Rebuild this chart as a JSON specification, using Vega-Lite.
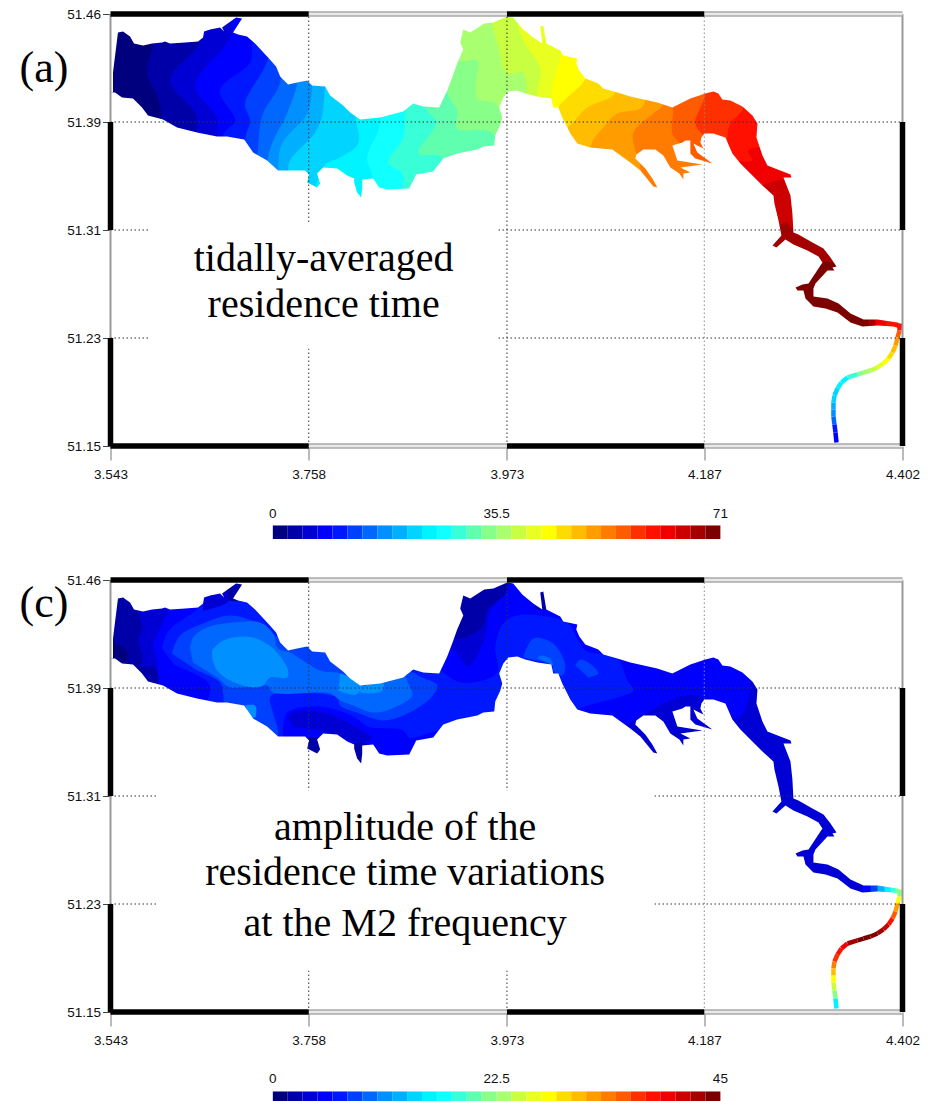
{"$schema":"https://vega.github.io/schema/vega-lite/v6.json","padding":{"left":19.5,"top":7,"right":0,"bottom":0},"spacing":0,"bounds":"flush","resolve":{"scale":{"fill":"independent","stroke":"independent"}},"config":{"view":{"stroke":null},"font":"Liberation Sans"},
"datasets":{
"a":[
{"p":0,"v":1.2,"lon":3.543,"lat":51.464},{"p":0,"v":1.2,"lon":4.402,"lat":51.464},{"p":0,"v":1.2,"lon":4.402,"lat":51.15},{"p":0,"v":1.2,"lon":3.543,"lat":51.15},
{"p":1,"v":3.6,"lon":3.5891,"lat":51.464},{"p":1,"v":3.6,"lon":3.5891,"lat":51.4426},{"p":1,"v":3.6,"lon":3.5826,"lat":51.4207},{"p":1,"v":3.6,"lon":3.5945,"lat":51.4033},{"p":1,"v":3.6,"lon":3.5989,"lat":51.3873},{"p":1,"v":3.6,"lon":3.5989,"lat":51.15},{"p":1,"v":3.6,"lon":4.402,"lat":51.15},{"p":1,"v":3.6,"lon":4.402,"lat":51.464},
{"p":2,"v":5.9,"lon":3.6401,"lat":51.464},{"p":2,"v":5.9,"lon":3.6401,"lat":51.4433},{"p":2,"v":5.9,"lon":3.6076,"lat":51.4157},{"p":2,"v":5.9,"lon":3.6347,"lat":51.3917},{"p":2,"v":5.9,"lon":3.6369,"lat":51.3779},{"p":2,"v":5.9,"lon":3.6369,"lat":51.15},{"p":2,"v":5.9,"lon":4.402,"lat":51.15},{"p":2,"v":5.9,"lon":4.402,"lat":51.464},
{"p":3,"v":8.3,"lon":3.6727,"lat":51.464},{"p":3,"v":8.3,"lon":3.6727,"lat":51.4469},{"p":3,"v":8.3,"lon":3.6347,"lat":51.412},{"p":3,"v":8.3,"lon":3.6586,"lat":51.3888},{"p":3,"v":8.3,"lon":3.6586,"lat":51.3757},{"p":3,"v":8.3,"lon":3.6586,"lat":51.15},{"p":3,"v":8.3,"lon":4.402,"lat":51.15},{"p":3,"v":8.3,"lon":4.402,"lat":51.464},
{"p":4,"v":10.7,"lon":3.6966,"lat":51.464},{"p":4,"v":10.7,"lon":3.6966,"lat":51.4426},{"p":4,"v":10.7,"lon":3.6944,"lat":51.4287},{"p":4,"v":10.7,"lon":3.6618,"lat":51.4084},{"p":4,"v":10.7,"lon":3.6781,"lat":51.3866},{"p":4,"v":10.7,"lon":3.6651,"lat":51.3757},{"p":4,"v":10.7,"lon":3.6651,"lat":51.15},{"p":4,"v":10.7,"lon":4.402,"lat":51.15},{"p":4,"v":10.7,"lon":4.402,"lat":51.464},
{"p":5,"v":13,"lon":3.7139,"lat":51.464},{"p":5,"v":13,"lon":3.7139,"lat":51.4317},{"p":5,"v":13,"lon":3.689,"lat":51.3989},{"p":5,"v":13,"lon":3.6944,"lat":51.3866},{"p":5,"v":13,"lon":3.689,"lat":51.3728},{"p":5,"v":13,"lon":3.689,"lat":51.15},{"p":5,"v":13,"lon":4.402,"lat":51.15},{"p":5,"v":13,"lon":4.402,"lat":51.464},
{"p":6,"v":15.4,"lon":3.727,"lat":51.464},{"p":6,"v":15.4,"lon":3.727,"lat":51.4142},{"p":6,"v":15.4,"lon":3.7085,"lat":51.3917},{"p":6,"v":15.4,"lon":3.7031,"lat":51.367},{"p":6,"v":15.4,"lon":3.7031,"lat":51.15},{"p":6,"v":15.4,"lon":4.402,"lat":51.15},{"p":6,"v":15.4,"lon":4.402,"lat":51.464},
{"p":7,"v":17.8,"lon":3.7454,"lat":51.464},{"p":7,"v":17.8,"lon":3.7454,"lat":51.4142},{"p":7,"v":17.8,"lon":3.7345,"lat":51.3917},{"p":7,"v":17.8,"lon":3.7139,"lat":51.3597},{"p":7,"v":17.8,"lon":3.7139,"lat":51.15},{"p":7,"v":17.8,"lon":4.402,"lat":51.15},{"p":7,"v":17.8,"lon":4.402,"lat":51.464},
{"p":8,"v":20.1,"lon":3.7617,"lat":51.464},{"p":8,"v":20.1,"lon":3.7617,"lat":51.412},{"p":8,"v":20.1,"lon":3.7563,"lat":51.3917},{"p":8,"v":20.1,"lon":3.7291,"lat":51.3699},{"p":8,"v":20.1,"lon":3.7248,"lat":51.3502},{"p":8,"v":20.1,"lon":3.7248,"lat":51.15},{"p":8,"v":20.1,"lon":4.402,"lat":51.15},{"p":8,"v":20.1,"lon":4.402,"lat":51.464},
{"p":9,"v":22.5,"lon":3.7758,"lat":51.464},{"p":9,"v":22.5,"lon":3.7758,"lat":51.4113},{"p":9,"v":22.5,"lon":3.7682,"lat":51.3815},{"p":9,"v":22.5,"lon":3.7378,"lat":51.3575},{"p":9,"v":22.5,"lon":3.7356,"lat":51.3488},{"p":9,"v":22.5,"lon":3.7356,"lat":51.15},{"p":9,"v":22.5,"lon":4.402,"lat":51.15},{"p":9,"v":22.5,"lon":4.402,"lat":51.464},
{"p":10,"v":24.9,"lon":3.8083,"lat":51.464},{"p":10,"v":24.9,"lon":3.8083,"lat":51.3924},{"p":10,"v":24.9,"lon":3.8116,"lat":51.3699},{"p":10,"v":24.9,"lon":3.7921,"lat":51.3597},{"p":10,"v":24.9,"lon":3.7736,"lat":51.3524},{"p":10,"v":24.9,"lon":3.7736,"lat":51.15},{"p":10,"v":24.9,"lon":4.402,"lat":51.15},{"p":10,"v":24.9,"lon":4.402,"lat":51.464},
{"p":11,"v":27.2,"lon":3.8355,"lat":51.464},{"p":11,"v":27.2,"lon":3.8355,"lat":51.3844},{"p":11,"v":27.2,"lon":3.8214,"lat":51.3597},{"p":11,"v":27.2,"lon":3.8279,"lat":51.343},{"p":11,"v":27.2,"lon":3.8279,"lat":51.15},{"p":11,"v":27.2,"lon":4.402,"lat":51.15},{"p":11,"v":27.2,"lon":4.402,"lat":51.464},
{"p":12,"v":29.6,"lon":3.8626,"lat":51.464},{"p":12,"v":29.6,"lon":3.8626,"lat":51.3924},{"p":12,"v":29.6,"lon":3.8605,"lat":51.3742},{"p":12,"v":29.6,"lon":3.8442,"lat":51.3561},{"p":12,"v":29.6,"lon":3.8594,"lat":51.3481},{"p":12,"v":29.6,"lon":3.8605,"lat":51.3372},{"p":12,"v":29.6,"lon":3.8605,"lat":51.15},{"p":12,"v":29.6,"lon":4.402,"lat":51.15},{"p":12,"v":29.6,"lon":4.402,"lat":51.464},
{"p":13,"v":32,"lon":3.8843,"lat":51.464},{"p":13,"v":32,"lon":3.8843,"lat":51.396},{"p":13,"v":32,"lon":3.8963,"lat":51.3851},{"p":13,"v":32,"lon":3.8767,"lat":51.3626},{"p":13,"v":32,"lon":3.9039,"lat":51.359},{"p":13,"v":32,"lon":3.9039,"lat":51.15},{"p":13,"v":32,"lon":4.402,"lat":51.15},{"p":13,"v":32,"lon":4.402,"lat":51.464},
{"p":14,"v":34.3,"lon":3.9082,"lat":51.464},{"p":14,"v":34.3,"lon":3.9082,"lat":51.4069},{"p":14,"v":34.3,"lon":3.919,"lat":51.3939},{"p":14,"v":34.3,"lon":3.919,"lat":51.3808},{"p":14,"v":34.3,"lon":3.9603,"lat":51.3757},{"p":14,"v":34.3,"lon":3.9603,"lat":51.15},{"p":14,"v":34.3,"lon":4.402,"lat":51.15},{"p":14,"v":34.3,"lon":4.402,"lat":51.464},
{"p":15,"v":36.7,"lon":3.9223,"lat":51.464},{"p":15,"v":36.7,"lon":3.9223,"lat":51.4302},{"p":15,"v":36.7,"lon":3.9408,"lat":51.4302},{"p":15,"v":36.7,"lon":3.9397,"lat":51.4157},{"p":15,"v":36.7,"lon":3.9408,"lat":51.4026},{"p":15,"v":36.7,"lon":3.9636,"lat":51.3968},{"p":15,"v":36.7,"lon":3.9636,"lat":51.15},{"p":15,"v":36.7,"lon":4.402,"lat":51.15},{"p":15,"v":36.7,"lon":4.402,"lat":51.464},
{"p":16,"v":39.1,"lon":3.9571,"lat":51.464},{"p":16,"v":39.1,"lon":3.9571,"lat":51.4571},{"p":16,"v":39.1,"lon":3.9625,"lat":51.4426},{"p":16,"v":39.1,"lon":3.9733,"lat":51.4207},{"p":16,"v":39.1,"lon":3.9896,"lat":51.4215},{"p":16,"v":39.1,"lon":3.994,"lat":51.4135},{"p":16,"v":39.1,"lon":3.994,"lat":51.15},{"p":16,"v":39.1,"lon":4.402,"lat":51.15},{"p":16,"v":39.1,"lon":4.402,"lat":51.464},
{"p":17,"v":41.4,"lon":3.9853,"lat":51.464},{"p":17,"v":41.4,"lon":3.9853,"lat":51.4542},{"p":17,"v":41.4,"lon":3.995,"lat":51.4396},{"p":17,"v":41.4,"lon":4.0091,"lat":51.4251},{"p":17,"v":41.4,"lon":4.0059,"lat":51.4048},{"p":17,"v":41.4,"lon":4.0059,"lat":51.15},{"p":17,"v":41.4,"lon":4.402,"lat":51.15},{"p":17,"v":41.4,"lon":4.402,"lat":51.464},
{"p":18,"v":43.8,"lon":4.0308,"lat":51.464},{"p":18,"v":43.8,"lon":4.0308,"lat":51.4324},{"p":18,"v":43.8,"lon":4.0232,"lat":51.4157},{"p":18,"v":43.8,"lon":4.0211,"lat":51.4026},{"p":18,"v":43.8,"lon":4.0211,"lat":51.15},{"p":18,"v":43.8,"lon":4.402,"lat":51.15},{"p":18,"v":43.8,"lon":4.402,"lat":51.464},
{"p":19,"v":46.2,"lon":4.058,"lat":51.464},{"p":19,"v":46.2,"lon":4.058,"lat":51.4171},{"p":19,"v":46.2,"lon":4.0384,"lat":51.4033},{"p":19,"v":46.2,"lon":4.0287,"lat":51.3953},{"p":19,"v":46.2,"lon":4.0287,"lat":51.15},{"p":19,"v":46.2,"lon":4.402,"lat":51.15},{"p":19,"v":46.2,"lon":4.402,"lat":51.464},
{"p":20,"v":48.5,"lon":4.0905,"lat":51.464},{"p":20,"v":48.5,"lon":4.0905,"lat":51.4069},{"p":20,"v":48.5,"lon":4.0851,"lat":51.4033},{"p":20,"v":48.5,"lon":4.0602,"lat":51.396},{"p":20,"v":48.5,"lon":4.0439,"lat":51.3844},{"p":20,"v":48.5,"lon":4.0384,"lat":51.3808},{"p":20,"v":48.5,"lon":4.0384,"lat":51.15},{"p":20,"v":48.5,"lon":4.402,"lat":51.15},{"p":20,"v":48.5,"lon":4.402,"lat":51.464},
{"p":21,"v":50.9,"lon":4.1242,"lat":51.464},{"p":21,"v":50.9,"lon":4.1242,"lat":51.4048},{"p":21,"v":50.9,"lon":4.1177,"lat":51.3953},{"p":21,"v":50.9,"lon":4.0927,"lat":51.3917},{"p":21,"v":50.9,"lon":4.0775,"lat":51.3815},{"p":21,"v":50.9,"lon":4.0634,"lat":51.367},{"p":21,"v":50.9,"lon":4.0634,"lat":51.15},{"p":21,"v":50.9,"lon":4.402,"lat":51.15},{"p":21,"v":50.9,"lon":4.402,"lat":51.464},
{"p":22,"v":53.3,"lon":4.1415,"lat":51.464},{"p":22,"v":53.3,"lon":4.1415,"lat":51.3975},{"p":22,"v":53.3,"lon":4.1318,"lat":51.3917},{"p":22,"v":53.3,"lon":4.1101,"lat":51.3779},{"p":22,"v":53.3,"lon":4.1122,"lat":51.3648},{"p":22,"v":53.3,"lon":4.1177,"lat":51.3539},{"p":22,"v":53.3,"lon":4.1177,"lat":51.15},{"p":22,"v":53.3,"lon":4.402,"lat":51.15},{"p":22,"v":53.3,"lon":4.402,"lat":51.464},
{"p":23,"v":55.6,"lon":4.1535,"lat":51.464},{"p":23,"v":55.6,"lon":4.1535,"lat":51.396},{"p":23,"v":55.6,"lon":4.1524,"lat":51.3771},{"p":23,"v":55.6,"lon":4.16,"lat":51.3699},{"p":23,"v":55.6,"lon":4.1665,"lat":51.3612},{"p":23,"v":55.6,"lon":4.1991,"lat":51.3517},{"p":23,"v":55.6,"lon":4.2045,"lat":51.15},{"p":23,"v":55.6,"lon":4.402,"lat":51.15},{"p":23,"v":55.6,"lon":4.402,"lat":51.464},
{"p":24,"v":58,"lon":4.1882,"lat":51.464},{"p":24,"v":58,"lon":4.1882,"lat":51.4062},{"p":24,"v":58,"lon":4.1773,"lat":51.3844},{"p":24,"v":58,"lon":4.186,"lat":51.3757},{"p":24,"v":58,"lon":4.2153,"lat":51.3502},{"p":24,"v":58,"lon":4.2153,"lat":51.15},{"p":24,"v":58,"lon":4.402,"lat":51.15},{"p":24,"v":58,"lon":4.402,"lat":51.464},
{"p":25,"v":60.4,"lon":4.2295,"lat":51.464},{"p":25,"v":60.4,"lon":4.2295,"lat":51.396},{"p":25,"v":60.4,"lon":4.2153,"lat":51.3844},{"p":25,"v":60.4,"lon":4.212,"lat":51.3742},{"p":25,"v":60.4,"lon":4.2175,"lat":51.3502},{"p":25,"v":60.4,"lon":4.2175,"lat":51.15},{"p":25,"v":60.4,"lon":4.402,"lat":51.15},{"p":25,"v":60.4,"lon":4.402,"lat":51.464},
{"p":26,"v":62.7,"lon":4.402,"lat":51.3648},{"p":26,"v":62.7,"lon":4.2349,"lat":51.3648},{"p":26,"v":62.7,"lon":4.2392,"lat":51.3575},{"p":26,"v":62.7,"lon":4.2099,"lat":51.3539},{"p":26,"v":62.7,"lon":4.2099,"lat":51.15},{"p":26,"v":62.7,"lon":4.402,"lat":51.15},
{"p":27,"v":65.1,"lon":4.402,"lat":51.3452},{"p":27,"v":65.1,"lon":4.2805,"lat":51.3452},{"p":27,"v":65.1,"lon":4.2501,"lat":51.3393},{"p":27,"v":65.1,"lon":4.2316,"lat":51.3321},{"p":27,"v":65.1,"lon":4.2316,"lat":51.15},{"p":27,"v":65.1,"lon":4.402,"lat":51.15},
{"p":28,"v":67.5,"lon":4.402,"lat":51.3103},{"p":28,"v":67.5,"lon":4.2837,"lat":51.3081},{"p":28,"v":67.5,"lon":4.2751,"lat":51.3124},{"p":28,"v":67.5,"lon":4.2588,"lat":51.303},{"p":28,"v":67.5,"lon":4.2479,"lat":51.15},{"p":28,"v":67.5,"lon":4.402,"lat":51.15},
{"p":29,"v":69.8,"lon":4.402,"lat":51.2834},{"p":29,"v":69.8,"lon":4.3304,"lat":51.2827},{"p":29,"v":69.8,"lon":4.3184,"lat":51.2841},{"p":29,"v":69.8,"lon":4.3109,"lat":51.2819},{"p":29,"v":69.8,"lon":4.2805,"lat":51.2776},{"p":29,"v":69.8,"lon":4.2805,"lat":51.15},{"p":29,"v":69.8,"lon":4.402,"lat":51.15},
{"p":30,"v":67.5,"lon":4.3651,"lat":51.2557},{"p":30,"v":67.5,"lon":4.402,"lat":51.2557},{"p":30,"v":67.5,"lon":4.402,"lat":51.223},{"p":30,"v":67.5,"lon":4.3651,"lat":51.223},
{"p":31,"v":62.7,"lon":4.3727,"lat":51.2557},{"p":31,"v":62.7,"lon":4.402,"lat":51.2557},{"p":31,"v":62.7,"lon":4.402,"lat":51.223},{"p":31,"v":62.7,"lon":4.3727,"lat":51.223},
{"p":32,"v":60.4,"lon":4.3836,"lat":51.2557},{"p":32,"v":60.4,"lon":4.402,"lat":51.2557},{"p":32,"v":60.4,"lon":4.402,"lat":51.223},{"p":32,"v":60.4,"lon":4.3836,"lat":51.223}
],
"c":[
{"p":0,"v":3.75,"lon":3.543,"lat":51.464},{"p":0,"v":3.75,"lon":4.402,"lat":51.464},{"p":0,"v":3.75,"lon":4.402,"lat":51.15},{"p":0,"v":3.75,"lon":3.543,"lat":51.15},
{"p":1,"v":5.25,"lon":3.6076,"lat":51.444},{"p":1,"v":5.25,"lon":3.6076,"lat":51.464},{"p":1,"v":5.25,"lon":4.1828,"lat":51.464},{"p":1,"v":5.25,"lon":4.2316,"lat":51.4011},{"p":1,"v":5.25,"lon":4.237,"lat":51.3866},{"p":1,"v":5.25,"lon":4.2262,"lat":51.3648},{"p":1,"v":5.25,"lon":4.2132,"lat":51.3648},{"p":1,"v":5.25,"lon":4.1828,"lat":51.3793},{"p":1,"v":5.25,"lon":4.1611,"lat":51.3793},{"p":1,"v":5.25,"lon":4.1177,"lat":51.3648},{"p":1,"v":5.25,"lon":4.0743,"lat":51.3466},{"p":1,"v":5.25,"lon":3.9874,"lat":51.3284},{"p":1,"v":5.25,"lon":3.6401,"lat":51.3284},{"p":1,"v":5.25,"lon":3.6184,"lat":51.3757},{"p":1,"v":5.25,"lon":3.5967,"lat":51.3888},{"p":1,"v":5.25,"lon":3.5935,"lat":51.4055},{"p":1,"v":5.25,"lon":3.5891,"lat":51.4178},
{"p":2,"v":6.75,"lon":3.5989,"lat":51.4142},{"p":2,"v":6.75,"lon":3.6054,"lat":51.4266},{"p":2,"v":6.75,"lon":3.6369,"lat":51.4426},{"p":2,"v":6.75,"lon":3.6673,"lat":51.4593},{"p":2,"v":6.75,"lon":3.7487,"lat":51.4302},{"p":2,"v":6.75,"lon":3.8572,"lat":51.4084},{"p":2,"v":6.75,"lon":3.9006,"lat":51.3982},{"p":2,"v":6.75,"lon":3.9169,"lat":51.3909},{"p":2,"v":6.75,"lon":3.9364,"lat":51.3895},{"p":2,"v":6.75,"lon":3.9625,"lat":51.3968},{"p":2,"v":6.75,"lon":3.9603,"lat":51.415},{"p":2,"v":6.75,"lon":3.969,"lat":51.4324},{"p":2,"v":6.75,"lon":3.9842,"lat":51.4382},{"p":2,"v":6.75,"lon":4.0091,"lat":51.4382},{"p":2,"v":6.75,"lon":4.0384,"lat":51.4331},{"p":2,"v":6.75,"lon":4.0504,"lat":51.42},{"p":2,"v":6.75,"lon":4.058,"lat":51.4128},{"p":2,"v":6.75,"lon":4.0927,"lat":51.4069},{"p":2,"v":6.75,"lon":4.1035,"lat":51.3909},{"p":2,"v":6.75,"lon":4.1101,"lat":51.3837},{"p":2,"v":6.75,"lon":4.0927,"lat":51.3786},{"p":2,"v":6.75,"lon":4.0547,"lat":51.3713},{"p":2,"v":6.75,"lon":4.0417,"lat":51.3648},{"p":2,"v":6.75,"lon":3.9657,"lat":51.3575},{"p":2,"v":6.75,"lon":3.9006,"lat":51.3546},{"p":2,"v":6.75,"lon":3.8659,"lat":51.3495},{"p":2,"v":6.75,"lon":3.8605,"lat":51.3546},{"p":2,"v":6.75,"lon":3.8246,"lat":51.3568},{"p":2,"v":6.75,"lon":3.7921,"lat":51.3619},{"p":2,"v":6.75,"lon":3.7704,"lat":51.3357},{"p":2,"v":6.75,"lon":3.7052,"lat":51.3357},{"p":2,"v":6.75,"lon":3.651,"lat":51.372},{"p":2,"v":6.75,"lon":3.6488,"lat":51.375},{"p":2,"v":6.75,"lon":3.651,"lat":51.3873},{"p":2,"v":6.75,"lon":3.638,"lat":51.3946},{"p":2,"v":6.75,"lon":3.613,"lat":51.4019},
{"p":3,"v":8.25,"lon":3.6097,"lat":51.4106},{"p":3,"v":8.25,"lon":3.6184,"lat":51.4236},{"p":3,"v":8.25,"lon":3.6434,"lat":51.4324},{"p":3,"v":8.25,"lon":3.6727,"lat":51.4382},{"p":3,"v":8.25,"lon":3.702,"lat":51.4331},{"p":3,"v":8.25,"lon":3.7161,"lat":51.4273},{"p":3,"v":8.25,"lon":3.7237,"lat":51.4229},{"p":3,"v":8.25,"lon":3.7921,"lat":51.4084},{"p":3,"v":8.25,"lon":3.8572,"lat":51.4011},{"p":3,"v":8.25,"lon":3.8811,"lat":51.3931},{"p":3,"v":8.25,"lon":3.8974,"lat":51.3873},{"p":3,"v":8.25,"lon":3.8898,"lat":51.3779},{"p":3,"v":8.25,"lon":3.8605,"lat":51.3655},{"p":3,"v":8.25,"lon":3.8388,"lat":51.3619},{"p":3,"v":8.25,"lon":3.8105,"lat":51.3677},{"p":3,"v":8.25,"lon":3.7921,"lat":51.3728},{"p":3,"v":8.25,"lon":3.7888,"lat":51.3786},{"p":3,"v":8.25,"lon":3.727,"lat":51.3822},{"p":3,"v":8.25,"lon":3.7161,"lat":51.3786},{"p":3,"v":8.25,"lon":3.7194,"lat":51.367},{"p":3,"v":8.25,"lon":3.7248,"lat":51.3524},{"p":3,"v":8.25,"lon":3.7161,"lat":51.3393},{"p":3,"v":8.25,"lon":3.6836,"lat":51.3648},{"p":3,"v":8.25,"lon":3.6673,"lat":51.372},{"p":3,"v":8.25,"lon":3.6651,"lat":51.3815},{"p":3,"v":8.25,"lon":3.6618,"lat":51.3895},{"p":3,"v":8.25,"lon":3.6369,"lat":51.3982},
{"p":4,"v":9.75,"lon":3.6293,"lat":51.4142},{"p":4,"v":9.75,"lon":3.6325,"lat":51.4222},{"p":4,"v":9.75,"lon":3.6477,"lat":51.4295},{"p":4,"v":9.75,"lon":3.6759,"lat":51.4331},{"p":4,"v":9.75,"lon":3.7052,"lat":51.4331},{"p":4,"v":9.75,"lon":3.7194,"lat":51.425},{"p":4,"v":9.75,"lon":3.7248,"lat":51.4142},{"p":4,"v":9.75,"lon":3.7378,"lat":51.4113},{"p":4,"v":9.75,"lon":3.7704,"lat":51.3982},{"p":4,"v":9.75,"lon":3.7921,"lat":51.396},{"p":4,"v":9.75,"lon":3.8062,"lat":51.3888},{"p":4,"v":9.75,"lon":3.8138,"lat":51.3924},{"p":4,"v":9.75,"lon":3.8605,"lat":51.3953},{"p":4,"v":9.75,"lon":3.8659,"lat":51.3888},{"p":4,"v":9.75,"lon":3.8702,"lat":51.38},{"p":4,"v":9.75,"lon":3.8485,"lat":51.3706},{"p":4,"v":9.75,"lon":3.8279,"lat":51.3677},{"p":4,"v":9.75,"lon":3.8062,"lat":51.3728},{"p":4,"v":9.75,"lon":3.7921,"lat":51.3764},{"p":4,"v":9.75,"lon":3.7812,"lat":51.3815},{"p":4,"v":9.75,"lon":3.7194,"lat":51.3822},{"p":4,"v":9.75,"lon":3.7128,"lat":51.3873},{"p":4,"v":9.75,"lon":3.6727,"lat":51.3859},{"p":4,"v":9.75,"lon":3.6586,"lat":51.3931},{"p":4,"v":9.75,"lon":3.6325,"lat":51.404},
{"p":5,"v":11.25,"lon":3.6532,"lat":51.4128},{"p":5,"v":11.25,"lon":3.6618,"lat":51.4186},{"p":5,"v":11.25,"lon":3.6759,"lat":51.4222},{"p":5,"v":11.25,"lon":3.6977,"lat":51.4222},{"p":5,"v":11.25,"lon":3.7194,"lat":51.4142},{"p":5,"v":11.25,"lon":3.7356,"lat":51.3982},{"p":5,"v":11.25,"lon":3.7345,"lat":51.3931},{"p":5,"v":11.25,"lon":3.7161,"lat":51.3931},{"p":5,"v":11.25,"lon":3.7085,"lat":51.3873},{"p":5,"v":11.25,"lon":3.6977,"lat":51.3859},{"p":5,"v":11.25,"lon":3.6727,"lat":51.3909},{"p":5,"v":11.25,"lon":3.6586,"lat":51.3982},{"p":5,"v":11.25,"lon":3.6532,"lat":51.4069},
{"p":6,"v":11.25,"lon":3.7921,"lat":51.396},{"p":6,"v":11.25,"lon":3.816,"lat":51.3888},{"p":6,"v":11.25,"lon":3.8095,"lat":51.3808},{"p":6,"v":11.25,"lon":3.79,"lat":51.3837},
{"p":7,"v":11.25,"lon":3.8138,"lat":51.3859},{"p":7,"v":11.25,"lon":3.8388,"lat":51.3895},{"p":7,"v":11.25,"lon":3.8377,"lat":51.3837},{"p":7,"v":11.25,"lon":3.8246,"lat":51.3815},{"p":7,"v":11.25,"lon":3.8138,"lat":51.3822},
{"p":8,"v":11.25,"lon":3.689,"lat":51.3728},{"p":8,"v":11.25,"lon":3.6998,"lat":51.3728},{"p":8,"v":11.25,"lon":3.6998,"lat":51.364},{"p":8,"v":11.25,"lon":3.6944,"lat":51.3648},
{"p":9,"v":5.25,"lon":3.7302,"lat":51.351},{"p":9,"v":5.25,"lon":3.7345,"lat":51.3677},{"p":9,"v":5.25,"lon":3.7704,"lat":51.372},{"p":9,"v":5.25,"lon":3.8062,"lat":51.3648},{"p":9,"v":5.25,"lon":3.8246,"lat":51.3568},{"p":9,"v":5.25,"lon":3.8605,"lat":51.3539},{"p":9,"v":5.25,"lon":3.8659,"lat":51.3495},{"p":9,"v":5.25,"lon":3.8539,"lat":51.3357},{"p":9,"v":5.25,"lon":3.7921,"lat":51.3321},{"p":9,"v":5.25,"lon":3.7378,"lat":51.3357},
{"p":10,"v":3.75,"lon":3.7356,"lat":51.364},{"p":10,"v":3.75,"lon":3.7432,"lat":51.3684},{"p":10,"v":3.75,"lon":3.7736,"lat":51.3677},{"p":10,"v":3.75,"lon":3.8062,"lat":51.3582},{"p":10,"v":3.75,"lon":3.8268,"lat":51.3488},{"p":10,"v":3.75,"lon":3.8083,"lat":51.346},{"p":10,"v":3.75,"lon":3.7704,"lat":51.3546},{"p":10,"v":3.75,"lon":3.7411,"lat":51.3568},
{"p":11,"v":2.25,"lon":3.7519,"lat":51.3488},{"p":11,"v":2.25,"lon":3.7725,"lat":51.3488},{"p":11,"v":2.25,"lon":3.7725,"lat":51.3321},{"p":11,"v":2.25,"lon":3.7519,"lat":51.3321},
{"p":12,"v":2.25,"lon":3.8051,"lat":51.3452},{"p":12,"v":2.25,"lon":3.8203,"lat":51.3452},{"p":12,"v":2.25,"lon":3.8203,"lat":51.3284},{"p":12,"v":2.25,"lon":3.8051,"lat":51.3284},
{"p":13,"v":2.25,"lon":3.6564,"lat":51.4542},{"p":13,"v":2.25,"lon":3.664,"lat":51.4636},{"p":13,"v":2.25,"lon":3.6889,"lat":51.4636},{"p":13,"v":2.25,"lon":3.6814,"lat":51.4491},{"p":13,"v":2.25,"lon":3.6673,"lat":51.4498},
{"p":14,"v":2.25,"lon":4.0037,"lat":51.4593},{"p":14,"v":2.25,"lon":4.0222,"lat":51.4593},{"p":14,"v":2.25,"lon":4.0222,"lat":51.4433},{"p":14,"v":2.25,"lon":4.0037,"lat":51.4433},
{"p":15,"v":3.75,"lon":3.6423,"lat":51.4542},{"p":15,"v":3.75,"lon":3.6673,"lat":51.4564},{"p":15,"v":3.75,"lon":3.6705,"lat":51.4484},{"p":15,"v":3.75,"lon":3.6434,"lat":51.4418},
{"p":16,"v":3.75,"lon":3.9733,"lat":51.46},{"p":16,"v":3.75,"lon":3.9722,"lat":51.4542},{"p":16,"v":3.75,"lon":3.9549,"lat":51.4418},{"p":16,"v":3.75,"lon":3.9494,"lat":51.4222},{"p":16,"v":3.75,"lon":3.931,"lat":51.4011},{"p":16,"v":3.75,"lon":3.9169,"lat":51.4128},{"p":16,"v":3.75,"lon":3.9093,"lat":51.4128},{"p":16,"v":3.75,"lon":3.9147,"lat":51.4222},{"p":16,"v":3.75,"lon":3.9169,"lat":51.452},{"p":16,"v":3.75,"lon":3.9473,"lat":51.4629},
{"p":17,"v":2.25,"lon":3.9256,"lat":51.4556},{"p":17,"v":2.25,"lon":3.9473,"lat":51.4615},{"p":17,"v":2.25,"lon":3.9711,"lat":51.4636},{"p":17,"v":2.25,"lon":3.9733,"lat":51.4564},{"p":17,"v":2.25,"lon":3.9516,"lat":51.4418},{"p":17,"v":2.25,"lon":3.9473,"lat":51.4309},{"p":17,"v":2.25,"lon":3.9277,"lat":51.4222},{"p":17,"v":2.25,"lon":3.9169,"lat":51.4222},{"p":17,"v":2.25,"lon":3.9169,"lat":51.4396},
{"p":18,"v":8.25,"lon":3.9907,"lat":51.4077},{"p":18,"v":8.25,"lon":4.0015,"lat":51.4215},{"p":18,"v":8.25,"lon":4.0232,"lat":51.4178},{"p":18,"v":8.25,"lon":4.0363,"lat":51.4019},{"p":18,"v":8.25,"lon":4.033,"lat":51.3946},{"p":18,"v":8.25,"lon":4.0232,"lat":51.3982},{"p":18,"v":8.25,"lon":4.0222,"lat":51.4033},{"p":18,"v":8.25,"lon":4.0059,"lat":51.4055},
{"p":19,"v":9.75,"lon":4.0059,"lat":51.4069},{"p":19,"v":9.75,"lon":4.0091,"lat":51.4091},{"p":19,"v":9.75,"lon":4.02,"lat":51.4069},{"p":19,"v":9.75,"lon":4.0232,"lat":51.4019},
{"p":20,"v":8.25,"lon":4.0471,"lat":51.4019},{"p":20,"v":8.25,"lon":4.0525,"lat":51.4062},{"p":20,"v":8.25,"lon":4.0656,"lat":51.4019},{"p":20,"v":8.25,"lon":4.0721,"lat":51.396},{"p":20,"v":8.25,"lon":4.0613,"lat":51.3931},
{"p":21,"v":2.25,"lon":3.543,"lat":51.404},{"p":21,"v":2.25,"lon":3.5511,"lat":51.4535},{"p":21,"v":2.25,"lon":3.5674,"lat":51.4462},{"p":21,"v":2.25,"lon":3.5772,"lat":51.4295},{"p":21,"v":2.25,"lon":3.5729,"lat":51.42},{"p":21,"v":2.25,"lon":3.5783,"lat":51.4055},{"p":21,"v":2.25,"lon":3.5696,"lat":51.3982},{"p":21,"v":2.25,"lon":3.5609,"lat":51.4004},
{"p":22,"v":2.25,"lon":3.5674,"lat":51.4004},{"p":22,"v":2.25,"lon":3.5913,"lat":51.4004},{"p":22,"v":2.25,"lon":3.5945,"lat":51.3895},{"p":22,"v":2.25,"lon":3.5837,"lat":51.3873},{"p":22,"v":2.25,"lon":3.575,"lat":51.393},
{"p":23,"v":0.75,"lon":3.543,"lat":51.4193},{"p":23,"v":0.75,"lon":3.5587,"lat":51.4142},{"p":23,"v":0.75,"lon":3.562,"lat":51.4069},{"p":23,"v":0.75,"lon":3.5511,"lat":51.4026},{"p":23,"v":0.75,"lon":3.543,"lat":51.4026},
{"p":24,"v":5.25,"lon":4.3586,"lat":51.2557},{"p":24,"v":5.25,"lon":4.402,"lat":51.2557},{"p":24,"v":5.25,"lon":4.402,"lat":51.223},{"p":24,"v":5.25,"lon":4.3586,"lat":51.223},
{"p":25,"v":8.25,"lon":4.3673,"lat":51.2557},{"p":25,"v":8.25,"lon":4.402,"lat":51.2557},{"p":25,"v":8.25,"lon":4.402,"lat":51.223},{"p":25,"v":8.25,"lon":4.3673,"lat":51.223},
{"p":26,"v":12.75,"lon":4.3749,"lat":51.2557},{"p":26,"v":12.75,"lon":4.402,"lat":51.2557},{"p":26,"v":12.75,"lon":4.402,"lat":51.223},{"p":26,"v":12.75,"lon":4.3749,"lat":51.223},
{"p":27,"v":15.75,"lon":4.3825,"lat":51.2557},{"p":27,"v":15.75,"lon":4.402,"lat":51.2557},{"p":27,"v":15.75,"lon":4.402,"lat":51.223},{"p":27,"v":15.75,"lon":4.3825,"lat":51.223},
{"p":28,"v":18.75,"lon":4.389,"lat":51.2557},{"p":28,"v":18.75,"lon":4.402,"lat":51.2557},{"p":28,"v":18.75,"lon":4.402,"lat":51.223},{"p":28,"v":18.75,"lon":4.389,"lat":51.223},
{"p":29,"v":21.75,"lon":4.3944,"lat":51.2557},{"p":29,"v":21.75,"lon":4.402,"lat":51.2557},{"p":29,"v":21.75,"lon":4.402,"lat":51.223},{"p":29,"v":21.75,"lon":4.3944,"lat":51.223}
],
"mask":[
{"m":"u","lon":3.543,"lat":51.4069},{"m":"u","lon":3.5457,"lat":51.4069},{"m":"u","lon":3.5457,"lat":51.4215},{"m":"u","lon":3.5511,"lat":51.4506},{"m":"u","lon":3.5566,"lat":51.4513},{"m":"u","lon":3.5642,"lat":51.4476},{"m":"u","lon":3.5685,"lat":51.4426},{"m":"u","lon":3.5783,"lat":51.4411},{"m":"u","lon":3.5881,"lat":51.4426},{"m":"u","lon":3.5989,"lat":51.4433},{"m":"u","lon":3.6021,"lat":51.444},{"m":"u","lon":3.6076,"lat":51.4426},{"m":"u","lon":3.6239,"lat":51.4433},{"m":"u","lon":3.638,"lat":51.444},{"m":"u","lon":3.6434,"lat":51.4469},{"m":"u","lon":3.6445,"lat":51.4513},{"m":"u","lon":3.651,"lat":51.4527},{"m":"u","lon":3.6618,"lat":51.4542},{"m":"u","lon":3.6662,"lat":51.4513},{"m":"u","lon":3.664,"lat":51.4542},{"m":"u","lon":3.6792,"lat":51.4615},{"m":"u","lon":3.6857,"lat":51.4607},{"m":"u","lon":3.6759,"lat":51.4506},{"m":"u","lon":3.6814,"lat":51.4491},{"m":"u","lon":3.6911,"lat":51.4476},{"m":"u","lon":3.6998,"lat":51.4426},{"m":"u","lon":3.7139,"lat":51.4324},{"m":"u","lon":3.7226,"lat":51.4258},{"m":"u","lon":3.727,"lat":51.4186},{"m":"u","lon":3.7356,"lat":51.4127},{"m":"u","lon":3.7454,"lat":51.4142},{"m":"u","lon":3.7563,"lat":51.4157},{"m":"u","lon":3.7617,"lat":51.412},{"m":"u","lon":3.7758,"lat":51.4113},{"m":"u","lon":3.7812,"lat":51.4048},{"m":"u","lon":3.7953,"lat":51.3975},{"m":"u","lon":3.8029,"lat":51.3924},{"m":"u","lon":3.8138,"lat":51.3873},{"m":"u","lon":3.8355,"lat":51.3888},{"m":"u","lon":3.8605,"lat":51.3931},{"m":"u","lon":3.8713,"lat":51.3989},{"m":"u","lon":3.8822,"lat":51.3968},{"m":"u","lon":3.8995,"lat":51.396},{"m":"u","lon":3.9082,"lat":51.4084},{"m":"u","lon":3.9136,"lat":51.4178},{"m":"u","lon":3.919,"lat":51.428},{"m":"u","lon":3.9256,"lat":51.4382},{"m":"u","lon":3.9223,"lat":51.4433},{"m":"u","lon":3.9256,"lat":51.4527},{"m":"u","lon":3.9332,"lat":51.4506},{"m":"u","lon":3.9484,"lat":51.4571},{"m":"u","lon":3.9582,"lat":51.4578},{"m":"u","lon":3.9733,"lat":51.4622},{"m":"u","lon":3.9798,"lat":51.4615},{"m":"u","lon":3.9896,"lat":51.4535},{"m":"u","lon":4.0015,"lat":51.4469},{"m":"u","lon":4.0113,"lat":51.4426},{"m":"u","lon":4.0091,"lat":51.4549},{"m":"u","lon":4.0124,"lat":51.4556},{"m":"u","lon":4.0157,"lat":51.4426},{"m":"u","lon":4.0308,"lat":51.4375},{"m":"u","lon":4.0341,"lat":51.4338},{"m":"u","lon":4.0493,"lat":51.4317},{"m":"u","lon":4.0482,"lat":51.428},{"m":"u","lon":4.0515,"lat":51.4229},{"m":"u","lon":4.058,"lat":51.4171},{"m":"u","lon":4.0721,"lat":51.4135},{"m":"u","lon":4.0775,"lat":51.4098},{"m":"u","lon":4.0927,"lat":51.4069},{"m":"u","lon":4.1068,"lat":51.404},{"m":"u","lon":4.136,"lat":51.3997},{"m":"u","lon":4.1524,"lat":51.396},{"m":"u","lon":4.1719,"lat":51.4026},{"m":"u","lon":4.1882,"lat":51.4062},{"m":"u","lon":4.1969,"lat":51.4077},{"m":"u","lon":4.2023,"lat":51.4062},{"m":"u","lon":4.2066,"lat":51.4019},{"m":"u","lon":4.2153,"lat":51.4011},{"m":"u","lon":4.2284,"lat":51.3968},{"m":"u","lon":4.2392,"lat":51.3902},{"m":"u","lon":4.2447,"lat":51.3844},{"m":"u","lon":4.2436,"lat":51.3742},{"m":"u","lon":4.2501,"lat":51.3612},{"m":"u","lon":4.2555,"lat":51.3539},{"m":"u","lon":4.2805,"lat":51.3473},{"m":"u","lon":4.2816,"lat":51.3452},{"m":"u","lon":4.2729,"lat":51.3452},{"m":"u","lon":4.2805,"lat":51.3321},{"m":"u","lon":4.2826,"lat":51.319},{"m":"u","lon":4.2837,"lat":51.3052},{"m":"u","lon":4.2891,"lat":51.3037},{"m":"u","lon":4.3043,"lat":51.2979},{"m":"u","lon":4.3163,"lat":51.2935},{"m":"u","lon":4.3239,"lat":51.287},{"m":"u","lon":4.3304,"lat":51.2805},{"m":"u","lon":4.326,"lat":51.2797},{"m":"u","lon":4.3282,"lat":51.2776},{"m":"u","lon":4.3206,"lat":51.2776},{"m":"u","lon":4.3076,"lat":51.2681},{"m":"u","lon":4.3054,"lat":51.2645},{"m":"u","lon":4.3054,"lat":51.2587},{"m":"u","lon":4.3206,"lat":51.2572},{"m":"u","lon":4.3326,"lat":51.2536},{"m":"u","lon":4.3456,"lat":51.2463},{"m":"u","lon":4.3597,"lat":51.2419},{"m":"u","lon":4.3749,"lat":51.2419},{"m":"u","lon":4.3966,"lat":51.2398},{"m":"u","lon":4.3988,"lat":51.239},{"m":"u","lon":4.402,"lat":51.239},{"m":"u","lon":4.402,"lat":51.464},{"m":"u","lon":3.543,"lat":51.464},
{"m":"l","lon":4.402,"lat":51.2361},{"m":"l","lon":4.3988,"lat":51.2354},{"m":"l","lon":4.3923,"lat":51.2369},{"m":"l","lon":4.3749,"lat":51.2376},{"m":"l","lon":4.3586,"lat":51.2369},{"m":"l","lon":4.3456,"lat":51.2398},{"m":"l","lon":4.3315,"lat":51.247},{"m":"l","lon":4.3185,"lat":51.2499},{"m":"l","lon":4.3054,"lat":51.2514},{"m":"l","lon":4.2968,"lat":51.2572},{"m":"l","lon":4.2946,"lat":51.263},{"m":"l","lon":4.2881,"lat":51.263},{"m":"l","lon":4.286,"lat":51.2652},{"m":"l","lon":4.2936,"lat":51.2674},{"m":"l","lon":4.3001,"lat":51.2681},{"m":"l","lon":4.313,"lat":51.2812},{"m":"l","lon":4.3152,"lat":51.2834},{"m":"l","lon":4.3109,"lat":51.2877},{"m":"l","lon":4.2989,"lat":51.2921},{"m":"l","lon":4.2837,"lat":51.2965},{"m":"l","lon":4.2751,"lat":51.3001},{"m":"l","lon":4.2653,"lat":51.2943},{"m":"l","lon":4.261,"lat":51.2957},{"m":"l","lon":4.2707,"lat":51.303},{"m":"l","lon":4.2675,"lat":51.3139},{"m":"l","lon":4.2631,"lat":51.3263},{"m":"l","lon":4.262,"lat":51.3321},{"m":"l","lon":4.2501,"lat":51.3393},{"m":"l","lon":4.2392,"lat":51.3466},{"m":"l","lon":4.2262,"lat":51.3553},{"m":"l","lon":4.2175,"lat":51.3626},{"m":"l","lon":4.2099,"lat":51.3742},{"m":"l","lon":4.1969,"lat":51.3771},{"m":"l","lon":4.1871,"lat":51.3771},{"m":"l","lon":4.1839,"lat":51.3742},{"m":"l","lon":4.1828,"lat":51.3706},{"m":"l","lon":4.186,"lat":51.3662},{"m":"l","lon":4.1752,"lat":51.3699},{"m":"l","lon":4.1795,"lat":51.3633},{"m":"l","lon":4.1958,"lat":51.3553},{"m":"l","lon":4.1773,"lat":51.359},{"m":"l","lon":4.1719,"lat":51.3626},{"m":"l","lon":4.1719,"lat":51.372},{"m":"l","lon":4.1665,"lat":51.372},{"m":"l","lon":4.1633,"lat":51.3706},{"m":"l","lon":4.1524,"lat":51.3684},{"m":"l","lon":4.1578,"lat":51.3575},{"m":"l","lon":4.185,"lat":51.3546},{"m":"l","lon":4.1611,"lat":51.3524},{"m":"l","lon":4.1719,"lat":51.3488},{"m":"l","lon":4.1643,"lat":51.3481},{"m":"l","lon":4.1643,"lat":51.3437},{"m":"l","lon":4.16,"lat":51.3481},{"m":"l","lon":4.1502,"lat":51.3524},{"m":"l","lon":4.1426,"lat":51.3612},{"m":"l","lon":4.1339,"lat":51.3655},{"m":"l","lon":4.1209,"lat":51.3655},{"m":"l","lon":4.1133,"lat":51.3619},{"m":"l","lon":4.1122,"lat":51.359},{"m":"l","lon":4.1231,"lat":51.3517},{"m":"l","lon":4.1307,"lat":51.3444},{"m":"l","lon":4.1361,"lat":51.3379},{"m":"l","lon":4.1318,"lat":51.3386},{"m":"l","lon":4.1177,"lat":51.3502},{"m":"l","lon":4.1068,"lat":51.3561},{"m":"l","lon":4.0873,"lat":51.3655},{"m":"l","lon":4.0634,"lat":51.367},{"m":"l","lon":4.0493,"lat":51.3699},{"m":"l","lon":4.0417,"lat":51.3771},{"m":"l","lon":4.033,"lat":51.3888},{"m":"l","lon":4.0287,"lat":51.396},{"m":"l","lon":4.0232,"lat":51.396},{"m":"l","lon":4.0211,"lat":51.4026},{"m":"l","lon":4.0059,"lat":51.404},{"m":"l","lon":3.9928,"lat":51.4062},{"m":"l","lon":3.9842,"lat":51.4084},{"m":"l","lon":3.9744,"lat":51.4077},{"m":"l","lon":3.969,"lat":51.4033},{"m":"l","lon":3.9646,"lat":51.396},{"m":"l","lon":3.9679,"lat":51.3888},{"m":"l","lon":3.9658,"lat":51.3837},{"m":"l","lon":3.9603,"lat":51.3757},{"m":"l","lon":3.9592,"lat":51.3684},{"m":"l","lon":3.9473,"lat":51.3677},{"m":"l","lon":3.9408,"lat":51.3655},{"m":"l","lon":3.919,"lat":51.3626},{"m":"l","lon":3.9039,"lat":51.359},{"m":"l","lon":3.893,"lat":51.3495},{"m":"l","lon":3.8746,"lat":51.3473},{"m":"l","lon":3.867,"lat":51.3372},{"m":"l","lon":3.8431,"lat":51.3364},{"m":"l","lon":3.8344,"lat":51.3379},{"m":"l","lon":3.8279,"lat":51.3444},{"m":"l","lon":3.816,"lat":51.3437},{"m":"l","lon":3.816,"lat":51.3379},{"m":"l","lon":3.8149,"lat":51.3306},{"m":"l","lon":3.8105,"lat":51.3342},{"m":"l","lon":3.8073,"lat":51.3415},{"m":"l","lon":3.8073,"lat":51.3444},{"m":"l","lon":3.7997,"lat":51.3466},{"m":"l","lon":3.7888,"lat":51.3517},{"m":"l","lon":3.7736,"lat":51.3524},{"m":"l","lon":3.7671,"lat":51.3481},{"m":"l","lon":3.7704,"lat":51.3408},{"m":"l","lon":3.7671,"lat":51.3379},{"m":"l","lon":3.7563,"lat":51.3415},{"m":"l","lon":3.7584,"lat":51.3473},{"m":"l","lon":3.7541,"lat":51.3502},{"m":"l","lon":3.7248,"lat":51.3502},{"m":"l","lon":3.7128,"lat":51.3575},{"m":"l","lon":3.6977,"lat":51.3633},{"m":"l","lon":3.688,"lat":51.3728},{"m":"l","lon":3.6694,"lat":51.375},{"m":"l","lon":3.6586,"lat":51.375},{"m":"l","lon":3.6369,"lat":51.3779},{"m":"l","lon":3.6152,"lat":51.3815},{"m":"l","lon":3.6,"lat":51.3873},{"m":"l","lon":3.5837,"lat":51.3902},{"m":"l","lon":3.5772,"lat":51.396},{"m":"l","lon":3.5674,"lat":51.4026},{"m":"l","lon":3.5555,"lat":51.4033},{"m":"l","lon":3.5479,"lat":51.4069},{"m":"l","lon":3.543,"lat":51.4069},{"m":"l","lon":3.543,"lat":51.15},{"m":"l","lon":4.402,"lat":51.15}
],
"tail":[
{"s":0,"a":60.4,"c":21.75,"lon":4.3988,"lat":51.2376},{"s":0,"a":60.4,"c":21.75,"lon":4.3988,"lat":51.2339},
{"s":1,"a":55.6,"c":27.75,"lon":4.3988,"lat":51.2339},{"s":1,"a":55.6,"c":27.75,"lon":4.3966,"lat":51.2289},
{"s":2,"a":50.9,"c":32.25,"lon":4.3966,"lat":51.2289},{"s":2,"a":50.9,"c":32.25,"lon":4.3945,"lat":51.223},
{"s":3,"a":48.5,"c":35.25,"lon":4.3945,"lat":51.223},{"s":3,"a":48.5,"c":35.25,"lon":4.3912,"lat":51.218},
{"s":4,"a":46.2,"c":38.25,"lon":4.3912,"lat":51.218},{"s":4,"a":46.2,"c":38.25,"lon":4.3868,"lat":51.2136},
{"s":5,"a":43.8,"c":41.25,"lon":4.3868,"lat":51.2136},{"s":5,"a":43.8,"c":41.25,"lon":4.3814,"lat":51.21},
{"s":6,"a":41.4,"c":42.75,"lon":4.3814,"lat":51.21},{"s":6,"a":41.4,"c":42.75,"lon":4.3749,"lat":51.2071},
{"s":7,"a":39.1,"c":44.25,"lon":4.3749,"lat":51.2071},{"s":7,"a":39.1,"c":44.25,"lon":4.3673,"lat":51.2049},
{"s":8,"a":36.7,"c":44.25,"lon":4.3673,"lat":51.2049},{"s":8,"a":36.7,"c":44.25,"lon":4.3597,"lat":51.2034},
{"s":9,"a":34.3,"c":44.25,"lon":4.3597,"lat":51.2034},{"s":9,"a":34.3,"c":44.25,"lon":4.3532,"lat":51.202},
{"s":10,"a":29.6,"c":42.75,"lon":4.3532,"lat":51.202},{"s":10,"a":29.6,"c":42.75,"lon":4.3423,"lat":51.1998},
{"s":11,"a":24.9,"c":39.75,"lon":4.3423,"lat":51.1998},{"s":11,"a":24.9,"c":39.75,"lon":4.3358,"lat":51.1962},
{"s":12,"a":24.9,"c":38.25,"lon":4.3358,"lat":51.1962},{"s":12,"a":24.9,"c":38.25,"lon":4.3315,"lat":51.1918},
{"s":13,"a":22.5,"c":36.75,"lon":4.3315,"lat":51.1918},{"s":13,"a":22.5,"c":36.75,"lon":4.3282,"lat":51.1867},
{"s":14,"a":22.5,"c":33.75,"lon":4.3282,"lat":51.1867},{"s":14,"a":22.5,"c":33.75,"lon":4.3271,"lat":51.1816},
{"s":15,"a":20.1,"c":30.75,"lon":4.3271,"lat":51.1816},{"s":15,"a":20.1,"c":30.75,"lon":4.3271,"lat":51.1765},
{"s":16,"a":17.8,"c":27.75,"lon":4.3271,"lat":51.1765},{"s":16,"a":17.8,"c":27.75,"lon":4.3271,"lat":51.1714},
{"s":17,"a":15.4,"c":24.75,"lon":4.3271,"lat":51.1714},{"s":17,"a":15.4,"c":24.75,"lon":4.3282,"lat":51.1656},
{"s":18,"a":10.7,"c":21.75,"lon":4.3282,"lat":51.1656},{"s":18,"a":10.7,"c":21.75,"lon":4.3293,"lat":51.1598},
{"s":19,"a":8.3,"c":15.75,"lon":4.3293,"lat":51.1598},{"s":19,"a":8.3,"c":15.75,"lon":4.3304,"lat":51.1525}
],
"frame":[
{"k":"grid","lon":3.758,"lon2":3.758,"lat":51.15,"lat2":51.464},{"k":"grid","lon":3.973,"lon2":3.973,"lat":51.15,"lat2":51.464},{"k":"gridl","lon":4.187,"lon2":4.187,"lat":51.15,"lat2":51.464},
{"k":"grid","lon":3.543,"lon2":4.402,"lat":51.2285,"lat2":51.2285},{"k":"grid","lon":3.543,"lon2":4.402,"lat":51.307,"lat2":51.307},{"k":"grid","lon":3.543,"lon2":4.402,"lat":51.3855,"lat2":51.3855},
{"k":"black","lon":3.543,"lon2":3.758,"lat":51.464,"lat2":51.464},{"k":"black","lon":3.973,"lon2":4.187,"lat":51.464,"lat2":51.464},{"k":"black","lon":3.543,"lon2":3.758,"lat":51.15,"lat2":51.15},{"k":"black","lon":3.973,"lon2":4.187,"lat":51.15,"lat2":51.15},
{"k":"black","lon":3.543,"lon2":3.543,"lat":51.15,"lat2":51.2285},{"k":"black","lon":3.543,"lon2":3.543,"lat":51.307,"lat2":51.3855},{"k":"black","lon":4.402,"lon2":4.402,"lat":51.15,"lat2":51.2285},{"k":"black","lon":4.402,"lon2":4.402,"lat":51.307,"lat2":51.3855},
{"k":"band","lon":3.758,"lon2":3.973,"lat":51.464,"lat2":51.464},{"k":"band","lon":4.187,"lon2":4.402,"lat":51.464,"lat2":51.464},{"k":"band","lon":3.758,"lon2":3.973,"lat":51.15,"lat2":51.15},{"k":"band","lon":4.187,"lon2":4.402,"lat":51.15,"lat2":51.15},
{"k":"side","lon":3.543,"lon2":3.543,"lat":51.2285,"lat2":51.307},{"k":"side","lon":3.543,"lon2":3.543,"lat":51.3855,"lat2":51.464},{"k":"side","lon":4.402,"lon2":4.402,"lat":51.2285,"lat2":51.307},{"k":"side","lon":4.402,"lon2":4.402,"lat":51.3855,"lat2":51.464}
],
"cbarA":[{"lo":0,"hi":2.367,"mid":1.2},{"lo":2.367,"hi":4.733,"mid":3.6},{"lo":4.733,"hi":7.1,"mid":5.9},{"lo":7.1,"hi":9.467,"mid":8.3},{"lo":9.467,"hi":11.833,"mid":10.7},{"lo":11.833,"hi":14.2,"mid":13},{"lo":14.2,"hi":16.567,"mid":15.4},{"lo":16.567,"hi":18.933,"mid":17.8},{"lo":18.933,"hi":21.3,"mid":20.1},{"lo":21.3,"hi":23.667,"mid":22.5},{"lo":23.667,"hi":26.033,"mid":24.9},{"lo":26.033,"hi":28.4,"mid":27.2},{"lo":28.4,"hi":30.767,"mid":29.6},{"lo":30.767,"hi":33.133,"mid":32},{"lo":33.133,"hi":35.5,"mid":34.3},{"lo":35.5,"hi":37.867,"mid":36.7},{"lo":37.867,"hi":40.233,"mid":39.1},{"lo":40.233,"hi":42.6,"mid":41.4},{"lo":42.6,"hi":44.967,"mid":43.8},{"lo":44.967,"hi":47.333,"mid":46.2},{"lo":47.333,"hi":49.7,"mid":48.5},{"lo":49.7,"hi":52.067,"mid":50.9},{"lo":52.067,"hi":54.433,"mid":53.3},{"lo":54.433,"hi":56.8,"mid":55.6},{"lo":56.8,"hi":59.167,"mid":58},{"lo":59.167,"hi":61.533,"mid":60.4},{"lo":61.533,"hi":63.9,"mid":62.7},{"lo":63.9,"hi":66.267,"mid":65.1},{"lo":66.267,"hi":68.633,"mid":67.5},{"lo":68.633,"hi":71,"mid":69.8}],
"cbarC":[{"lo":0,"hi":1.5,"mid":0.75},{"lo":1.5,"hi":3,"mid":2.25},{"lo":3,"hi":4.5,"mid":3.75},{"lo":4.5,"hi":6,"mid":5.25},{"lo":6,"hi":7.5,"mid":6.75},{"lo":7.5,"hi":9,"mid":8.25},{"lo":9,"hi":10.5,"mid":9.75},{"lo":10.5,"hi":12,"mid":11.25},{"lo":12,"hi":13.5,"mid":12.75},{"lo":13.5,"hi":15,"mid":14.25},{"lo":15,"hi":16.5,"mid":15.75},{"lo":16.5,"hi":18,"mid":17.25},{"lo":18,"hi":19.5,"mid":18.75},{"lo":19.5,"hi":21,"mid":20.25},{"lo":21,"hi":22.5,"mid":21.75},{"lo":22.5,"hi":24,"mid":23.25},{"lo":24,"hi":25.5,"mid":24.75},{"lo":25.5,"hi":27,"mid":26.25},{"lo":27,"hi":28.5,"mid":27.75},{"lo":28.5,"hi":30,"mid":29.25},{"lo":30,"hi":31.5,"mid":30.75},{"lo":31.5,"hi":33,"mid":32.25},{"lo":33,"hi":34.5,"mid":33.75},{"lo":34.5,"hi":36,"mid":35.25},{"lo":36,"hi":37.5,"mid":36.75},{"lo":37.5,"hi":39,"mid":38.25},{"lo":39,"hi":40.5,"mid":39.75},{"lo":40.5,"hi":42,"mid":41.25},{"lo":42,"hi":43.5,"mid":42.75},{"lo":43.5,"hi":45,"mid":44.25}]
},
"vconcat":[
{"width":792,"height":432,
"encoding":{"x":{"field":"lon","type":"quantitative","scale":{"domain":[3.543,4.402],"nice":false,"zero":false},"axis":{"title":null,"values":[3.543,3.758,3.973,4.187,4.402],"format":".3f","domain":false,"grid":false,"tickSize":14,"tickColor":"#777","labelFont":"Liberation Sans","labelFontSize":13.5,"labelColor":"#111","labelPadding":7,"labelFlush":false,"labelOverlap":false}},"y":{"field":"lat","type":"quantitative","scale":{"domain":[51.15,51.464],"nice":false,"zero":false},"axis":{"title":null,"values":[51.15,51.2285,51.307,51.3855,51.464],"format":".2f","domain":false,"grid":false,"tickSize":8,"tickColor":"#444","labelFont":"Liberation Sans","labelFontSize":13.5,"labelColor":"#111","labelPadding":2,"labelFlush":false,"labelOverlap":false}}},
"layer":[
{"data":{"name":"a"},"transform":[{"window":[{"op":"row_number","as":"i"}]}],"mark":{"type":"line","stroke":null,"strokeWidth":0,"interpolate":"catmull-rom","clip":true},"encoding":{"order":{"field":"i","type":"quantitative"},"detail":{"field":"p","type":"nominal"},"fill":{"field":"v","type":"quantitative","scale":{"type":"quantize","domain":[0,71],"range":["#00007f","#0000a8","#0000d4","#0000ff","#0018ff","#0040ff","#0068ff","#0090ff","#00b0ff","#00d4ff","#00f4ff","#10ffff","#38ffd8","#60ffb0","#88ff88","#a8ff70","#c8ff40","#e8ff20","#ffff00","#ffdc00","#ffbc00","#ff9c00","#ff7c00","#ff5c00","#ff3000","#ff1000","#f00000","#cc0000","#a40000","#7c0000"]},"legend":null}}},
{"data":{"name":"mask"},"transform":[{"window":[{"op":"row_number","as":"i"}]}],"mark":{"type":"line","fill":"white","stroke":null,"strokeWidth":0},"encoding":{"order":{"field":"i","type":"quantitative"},"detail":{"field":"m","type":"nominal"}}},
{"data":{"name":"tail"},"transform":[{"window":[{"op":"row_number","as":"i"}]}],"mark":{"type":"line","strokeWidth":4.5,"strokeCap":"butt"},"encoding":{"order":{"field":"i","type":"quantitative"},"detail":{"field":"s","type":"nominal"},"stroke":{"field":"a","type":"quantitative","scale":{"type":"quantize","domain":[0,71],"range":["#00007f","#0000a8","#0000d4","#0000ff","#0018ff","#0040ff","#0068ff","#0090ff","#00b0ff","#00d4ff","#00f4ff","#10ffff","#38ffd8","#60ffb0","#88ff88","#a8ff70","#c8ff40","#e8ff20","#ffff00","#ffdc00","#ffbc00","#ff9c00","#ff7c00","#ff5c00","#ff3000","#ff1000","#f00000","#cc0000","#a40000","#7c0000"]},"legend":null}}},
{"data":{"name":"frame"},"transform":[{"filter":"datum.k=='grid'"}],"mark":{"type":"rule","color":"#333","strokeWidth":1,"strokeDash":[1.5,2.5]},"encoding":{"x2":{"field":"lon2"},"y2":{"field":"lat2"}}},
{"data":{"name":"frame"},"transform":[{"filter":"datum.k=='gridl'"}],"mark":{"type":"rule","color":"#888","strokeWidth":1,"strokeDash":[1.5,2.5]},"encoding":{"x2":{"field":"lon2"},"y2":{"field":"lat2"}}},
{"data":{"values":[{"lon":3.5859,"lon2":3.9625,"lat":51.3125,"lat2":51.2209}]},"mark":{"type":"rect","fill":"white"},"encoding":{"x2":{"field":"lon2"},"y2":{"field":"lat2"}}},
{"data":{"values":[{"t":"tidally-averaged","lon":3.7742,"lat":51.2769},{"t":"residence time","lon":3.7742,"lat":51.2436}]},"mark":{"type":"text","font":"Liberation Serif","fontSize":40,"baseline":"alphabetic","align":"center","color":"#000"},"encoding":{"text":{"field":"t"}}},
{"data":{"values":[{"t":"(a)","lon":3.4708,"lat":51.4149}]},"mark":{"type":"text","font":"Liberation Serif","fontSize":44,"baseline":"alphabetic","align":"center","color":"#000"},"encoding":{"text":{"field":"t"}}},
{"data":{"name":"frame"},"transform":[{"filter":"datum.k=='side'"}],"mark":{"type":"rule","color":"#999","strokeWidth":2},"encoding":{"x2":{"field":"lon2"},"y2":{"field":"lat2"}}},
{"data":{"name":"frame"},"transform":[{"filter":"datum.k=='band'"}],"mark":{"type":"rule","color":"#a8a8a8","strokeWidth":5.5},"encoding":{"x2":{"field":"lon2"},"y2":{"field":"lat2"}}},
{"data":{"name":"frame"},"transform":[{"filter":"datum.k=='band'"}],"mark":{"type":"rule","color":"#e8e8e8","strokeWidth":2.5},"encoding":{"x2":{"field":"lon2"},"y2":{"field":"lat2"}}},
{"data":{"name":"frame"},"transform":[{"filter":"datum.k=='black'"}],"mark":{"type":"rule","color":"#000","strokeWidth":5.5},"encoding":{"x2":{"field":"lon2"},"y2":{"field":"lat2"}}}
]},
{"width":792,"height":134,
"encoding":{"x":{"field":"x","type":"quantitative","scale":{"domain":[-25.75,99.89],"nice":false,"zero":false},"axis":null}},
"layer":[
{"data":{"name":"cbarA"},"mark":{"type":"rect"},"encoding":{"x":{"field":"lo","type":"quantitative","scale":{"domain":[-25.75,99.89],"nice":false,"zero":false},"axis":null},"x2":{"field":"hi"},"y":{"datum":0.593,"type":"quantitative","scale":{"domain":[0,1],"reverse":true,"nice":false},"axis":null},"y2":{"datum":0.694},"fill":{"field":"mid","type":"quantitative","scale":{"type":"quantize","domain":[0,71],"range":["#00007f","#0000a8","#0000d4","#0000ff","#0018ff","#0040ff","#0068ff","#0090ff","#00b0ff","#00d4ff","#00f4ff","#10ffff","#38ffd8","#60ffb0","#88ff88","#a8ff70","#c8ff40","#e8ff20","#ffff00","#ffdc00","#ffbc00","#ff9c00","#ff7c00","#ff5c00","#ff3000","#ff1000","#f00000","#cc0000","#a40000","#7c0000"]},"legend":null}}},
{"data":{"values":[{"x":0,"t":"0"},{"x":35.5,"t":"35.5"},{"x":71,"t":"71"}]},"mark":{"type":"text","font":"Liberation Sans","fontSize":13.5,"color":"#111","baseline":"middle","align":"center"},"encoding":{"y":{"datum":0.504,"type":"quantitative","scale":{"domain":[0,1],"reverse":true,"nice":false},"axis":null},"text":{"field":"t"}}}
]},
{"width":792,"height":432,
"encoding":{"x":{"field":"lon","type":"quantitative","scale":{"domain":[3.543,4.402],"nice":false,"zero":false},"axis":{"title":null,"values":[3.543,3.758,3.973,4.187,4.402],"format":".3f","domain":false,"grid":false,"tickSize":14,"tickColor":"#777","labelFont":"Liberation Sans","labelFontSize":13.5,"labelColor":"#111","labelPadding":7,"labelFlush":false,"labelOverlap":false}},"y":{"field":"lat","type":"quantitative","scale":{"domain":[51.15,51.464],"nice":false,"zero":false},"axis":{"title":null,"values":[51.15,51.2285,51.307,51.3855,51.464],"format":".2f","domain":false,"grid":false,"tickSize":8,"tickColor":"#444","labelFont":"Liberation Sans","labelFontSize":13.5,"labelColor":"#111","labelPadding":2,"labelFlush":false,"labelOverlap":false}}},
"layer":[
{"data":{"name":"c"},"transform":[{"window":[{"op":"row_number","as":"i"}]}],"mark":{"type":"line","stroke":null,"strokeWidth":0,"interpolate":"catmull-rom","clip":true},"encoding":{"order":{"field":"i","type":"quantitative"},"detail":{"field":"p","type":"nominal"},"fill":{"field":"v","type":"quantitative","scale":{"type":"quantize","domain":[0,45],"range":["#00007f","#0000a8","#0000d4","#0000ff","#0018ff","#0040ff","#0068ff","#0090ff","#00b0ff","#00d4ff","#00f4ff","#10ffff","#38ffd8","#60ffb0","#88ff88","#a8ff70","#c8ff40","#e8ff20","#ffff00","#ffdc00","#ffbc00","#ff9c00","#ff7c00","#ff5c00","#ff3000","#ff1000","#f00000","#cc0000","#a40000","#7c0000"]},"legend":null}}},
{"data":{"name":"mask"},"transform":[{"window":[{"op":"row_number","as":"i"}]}],"mark":{"type":"line","fill":"white","stroke":null,"strokeWidth":0},"encoding":{"order":{"field":"i","type":"quantitative"},"detail":{"field":"m","type":"nominal"}}},
{"data":{"name":"tail"},"transform":[{"window":[{"op":"row_number","as":"i"}]}],"mark":{"type":"line","strokeWidth":4.5,"strokeCap":"butt"},"encoding":{"order":{"field":"i","type":"quantitative"},"detail":{"field":"s","type":"nominal"},"stroke":{"field":"c","type":"quantitative","scale":{"type":"quantize","domain":[0,45],"range":["#00007f","#0000a8","#0000d4","#0000ff","#0018ff","#0040ff","#0068ff","#0090ff","#00b0ff","#00d4ff","#00f4ff","#10ffff","#38ffd8","#60ffb0","#88ff88","#a8ff70","#c8ff40","#e8ff20","#ffff00","#ffdc00","#ffbc00","#ff9c00","#ff7c00","#ff5c00","#ff3000","#ff1000","#f00000","#cc0000","#a40000","#7c0000"]},"legend":null}}},
{"data":{"name":"frame"},"transform":[{"filter":"datum.k=='grid'"}],"mark":{"type":"rule","color":"#333","strokeWidth":1,"strokeDash":[1.5,2.5]},"encoding":{"x2":{"field":"lon2"},"y2":{"field":"lat2"}}},
{"data":{"name":"frame"},"transform":[{"filter":"datum.k=='gridl'"}],"mark":{"type":"rule","color":"#888","strokeWidth":1,"strokeDash":[1.5,2.5]},"encoding":{"x2":{"field":"lon2"},"y2":{"field":"lat2"}}},
{"data":{"values":[{"lon":3.5935,"lon2":4.1328,"lat":51.311,"lat2":51.1802}]},"mark":{"type":"rect","fill":"white"},"encoding":{"x2":{"field":"lon2"},"y2":{"field":"lat2"}}},
{"data":{"values":[{"t":"amplitude of the","lon":3.8626,"lat":51.2748},{"t":"residence time variations","lon":3.8626,"lat":51.242},{"t":"at the M2 frequency","lon":3.8626,"lat":51.2056}]},"mark":{"type":"text","font":"Liberation Serif","fontSize":40,"baseline":"alphabetic","align":"center","color":"#000"},"encoding":{"text":{"field":"t"}}},
{"data":{"values":[{"t":"(c)","lon":3.4708,"lat":51.4369}]},"mark":{"type":"text","font":"Liberation Serif","fontSize":44,"baseline":"alphabetic","align":"center","color":"#000"},"encoding":{"text":{"field":"t"}}},
{"data":{"name":"frame"},"transform":[{"filter":"datum.k=='side'"}],"mark":{"type":"rule","color":"#999","strokeWidth":2},"encoding":{"x2":{"field":"lon2"},"y2":{"field":"lat2"}}},
{"data":{"name":"frame"},"transform":[{"filter":"datum.k=='band'"}],"mark":{"type":"rule","color":"#a8a8a8","strokeWidth":5.5},"encoding":{"x2":{"field":"lon2"},"y2":{"field":"lat2"}}},
{"data":{"name":"frame"},"transform":[{"filter":"datum.k=='band'"}],"mark":{"type":"rule","color":"#e8e8e8","strokeWidth":2.5},"encoding":{"x2":{"field":"lon2"},"y2":{"field":"lat2"}}},
{"data":{"name":"frame"},"transform":[{"filter":"datum.k=='black'"}],"mark":{"type":"rule","color":"#000","strokeWidth":5.5},"encoding":{"x2":{"field":"lon2"},"y2":{"field":"lat2"}}}
]},
{"width":792,"height":90,
"encoding":{"x":{"field":"x","type":"quantitative","scale":{"domain":[-16.32,63.31],"nice":false,"zero":false},"axis":null}},
"layer":[
{"data":{"name":"cbarC"},"mark":{"type":"rect"},"encoding":{"x":{"field":"lo","type":"quantitative","scale":{"domain":[-16.32,63.31],"nice":false,"zero":false},"axis":null},"x2":{"field":"hi"},"y":{"datum":0.883,"type":"quantitative","scale":{"domain":[0,1],"reverse":true,"nice":false},"axis":null},"y2":{"datum":1},"fill":{"field":"mid","type":"quantitative","scale":{"type":"quantize","domain":[0,45],"range":["#00007f","#0000a8","#0000d4","#0000ff","#0018ff","#0040ff","#0068ff","#0090ff","#00b0ff","#00d4ff","#00f4ff","#10ffff","#38ffd8","#60ffb0","#88ff88","#a8ff70","#c8ff40","#e8ff20","#ffff00","#ffdc00","#ffbc00","#ff9c00","#ff7c00","#ff5c00","#ff3000","#ff1000","#f00000","#cc0000","#a40000","#7c0000"]},"legend":null}}},
{"data":{"values":[{"x":0,"t":"0"},{"x":22.5,"t":"22.5"},{"x":45,"t":"45"}]},"mark":{"type":"text","font":"Liberation Sans","fontSize":13.5,"color":"#111","baseline":"middle","align":"center"},"encoding":{"y":{"datum":0.739,"type":"quantitative","scale":{"domain":[0,1],"reverse":true,"nice":false},"axis":null},"text":{"field":"t"}}}
]}
]}
